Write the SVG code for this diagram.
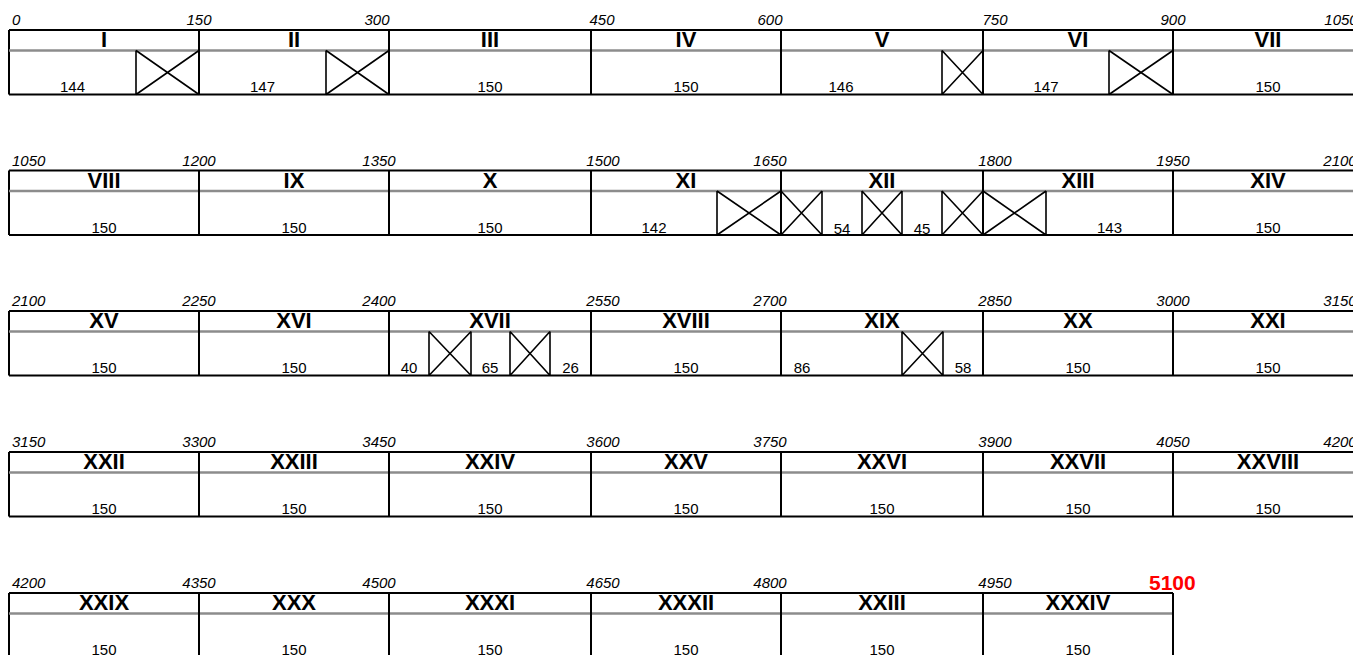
<svg xmlns="http://www.w3.org/2000/svg" width="1353" height="655" viewBox="0 0 1353 655">
<style>
.b{stroke:#000;stroke-width:2;fill:none}
.g{stroke:#8c8c8c;stroke-width:2.5;fill:none}
.x{stroke:#000;stroke-width:1.6;fill:none}
.t{font-family:"Liberation Sans",Arial,sans-serif;font-style:italic;font-size:15px;fill:#000;text-anchor:middle}
.ts{text-anchor:start}
.r{font-family:"Liberation Sans",Arial,sans-serif;font-weight:bold;font-size:22px;text-anchor:middle;fill:#000}
.n{font-family:"Liberation Sans",Arial,sans-serif;font-size:15px;text-anchor:middle;fill:#000}
.red{font-family:"Liberation Sans",Arial,sans-serif;font-weight:bold;font-size:21px;fill:#ff0000}
</style>
<rect width="1353" height="655" fill="#fff"/>

<!-- Row 1 -->
<g id="row1">
  <g id="row1-frame">
    <path class="b" d="M9,30H1363M9,94.5H1363M9,30V94.5"/>
    <path class="g" d="M9,50.5H1363"/>
    <text class="t ts" x="12" y="25">0</text>
    <text class="t" x="199" y="25">150</text>
    <text class="t" x="377" y="25">300</text>
    <text class="t" x="602" y="25">450</text>
    <text class="t" x="770" y="25">600</text>
    <text class="t" x="995" y="25">750</text>
    <text class="t" x="1173" y="25">900</text>
    <text class="t" x="1341" y="25">1050</text>
  </g>
  <g id="seg-I"><path class="b" d="M199,30V94.5"/><text class="r" x="104" y="47">I</text><text class="n" x="72.5" y="92">144</text><path class="x" d="M136,50.5V94.5M136,50.5L199,94.5M136,94.5L199,50.5"/></g>
  <g id="seg-II"><path class="b" d="M389,30V94.5"/><text class="r" x="294" y="47">II</text><text class="n" x="262.5" y="92">147</text><path class="x" d="M326,50.5V94.5M326,50.5L389,94.5M326,94.5L389,50.5"/></g>
  <g id="seg-III"><path class="b" d="M591,30V94.5"/><text class="r" x="490" y="47">III</text><text class="n" x="490" y="92">150</text></g>
  <g id="seg-IV"><path class="b" d="M781,30V94.5"/><text class="r" x="686" y="47">IV</text><text class="n" x="686" y="92">150</text></g>
  <g id="seg-V"><path class="b" d="M983,30V94.5"/><text class="r" x="882" y="47">V</text><text class="n" x="841" y="92">146</text><path class="x" d="M942,50.5V94.5M942,50.5L983,94.5M942,94.5L983,50.5"/></g>
  <g id="seg-VI"><path class="b" d="M1173,30V94.5"/><text class="r" x="1078" y="47">VI</text><text class="n" x="1046" y="92">147</text><path class="x" d="M1109,50.5V94.5M1109,50.5L1173,94.5M1109,94.5L1173,50.5"/></g>
  <g id="seg-VII"><text class="r" x="1268" y="47">VII</text><text class="n" x="1268" y="92">150</text></g>
</g>

<!-- Row 2 -->
<g id="row2" transform="translate(0,140.5)">
  <g id="row2-frame">
    <path class="b" d="M9,30H1363M9,94.5H1363M9,30V94.5"/>
    <path class="g" d="M9,50.5H1363"/>
    <text class="t ts" x="12" y="25">1050</text>
    <text class="t" x="199" y="25">1200</text>
    <text class="t" x="379" y="25">1350</text>
    <text class="t" x="603" y="25">1500</text>
    <text class="t" x="770" y="25">1650</text>
    <text class="t" x="995" y="25">1800</text>
    <text class="t" x="1173" y="25">1950</text>
    <text class="t" x="1340" y="25">2100</text>
  </g>
  <g id="seg-VIII"><path class="b" d="M199,30V94.5"/><text class="r" x="104" y="47">VIII</text><text class="n" x="104" y="92">150</text></g>
  <g id="seg-IX"><path class="b" d="M389,30V94.5"/><text class="r" x="294" y="47">IX</text><text class="n" x="294" y="92">150</text></g>
  <g id="seg-X"><path class="b" d="M591,30V94.5"/><text class="r" x="490" y="47">X</text><text class="n" x="490" y="92">150</text></g>
  <g id="seg-XI"><path class="b" d="M781,30V94.5"/><text class="r" x="686" y="47">XI</text><text class="n" x="654" y="92">142</text><path class="x" d="M717,50.5V94.5M717,50.5L781,94.5M717,94.5L781,50.5"/></g>
  <g id="seg-XII"><path class="b" d="M983,30V94.5"/><text class="r" x="882" y="47">XII</text><text class="n" x="842" y="93">54</text><text class="n" x="922" y="93">45</text><path class="x" d="M822,50.5V94.5M781,50.5L822,94.5M781,94.5L822,50.5M862,50.5V94.5M902,50.5V94.5M862,50.5L902,94.5M862,94.5L902,50.5M942,50.5V94.5M942,50.5L983,94.5M942,94.5L983,50.5"/></g>
  <g id="seg-XIII"><path class="b" d="M1173,30V94.5"/><text class="r" x="1078" y="47">XIII</text><text class="n" x="1109.5" y="92">143</text><path class="x" d="M1046,50.5V94.5M983,50.5L1046,94.5M983,94.5L1046,50.5"/></g>
  <g id="seg-XIV"><text class="r" x="1268" y="47">XIV</text><text class="n" x="1268" y="92">150</text></g>
</g>

<!-- Row 3 -->
<g id="row3" transform="translate(0,281)">
  <g id="row3-frame">
    <path class="b" d="M9,30H1363M9,94.5H1363M9,30V94.5"/>
    <path class="g" d="M9,50.5H1363"/>
    <text class="t ts" x="12" y="25">2100</text>
    <text class="t" x="199" y="25">2250</text>
    <text class="t" x="379" y="25">2400</text>
    <text class="t" x="603" y="25">2550</text>
    <text class="t" x="770" y="25">2700</text>
    <text class="t" x="995" y="25">2850</text>
    <text class="t" x="1173" y="25">3000</text>
    <text class="t" x="1340" y="25">3150</text>
  </g>
  <g id="seg-XV"><path class="b" d="M199,30V94.5"/><text class="r" x="104" y="47">XV</text><text class="n" x="104" y="92">150</text></g>
  <g id="seg-XVI"><path class="b" d="M389,30V94.5"/><text class="r" x="294" y="47">XVI</text><text class="n" x="294" y="92">150</text></g>
  <g id="seg-XVII"><path class="b" d="M591,30V94.5"/><text class="r" x="490" y="47">XVII</text><text class="n" x="409" y="92">40</text><text class="n" x="490" y="92">65</text><text class="n" x="570.5" y="92">26</text><path class="x" d="M429,50.5V94.5M471,50.5V94.5M429,50.5L471,94.5M429,94.5L471,50.5M510,50.5V94.5M550,50.5V94.5M510,50.5L550,94.5M510,94.5L550,50.5"/></g>
  <g id="seg-XVIII"><path class="b" d="M781,30V94.5"/><text class="r" x="686" y="47">XVIII</text><text class="n" x="686" y="92">150</text></g>
  <g id="seg-XIX"><path class="b" d="M983,30V94.5"/><text class="r" x="882" y="47">XIX</text><text class="n" x="802" y="92">86</text><text class="n" x="963" y="92">58</text><path class="x" d="M902,50.5V94.5M943,50.5V94.5M902,50.5L943,94.5M902,94.5L943,50.5"/></g>
  <g id="seg-XX"><path class="b" d="M1173,30V94.5"/><text class="r" x="1078" y="47">XX</text><text class="n" x="1078" y="92">150</text></g>
  <g id="seg-XXI"><text class="r" x="1268" y="47">XXI</text><text class="n" x="1268" y="92">150</text></g>
</g>

<!-- Row 4 -->
<g id="row4" transform="translate(0,422)">
  <g id="row4-frame">
    <path class="b" d="M9,30H1363M9,94.5H1363M9,30V94.5"/>
    <path class="g" d="M9,50.5H1363"/>
    <text class="t ts" x="12" y="25">3150</text>
    <text class="t" x="199" y="25">3300</text>
    <text class="t" x="379" y="25">3450</text>
    <text class="t" x="603" y="25">3600</text>
    <text class="t" x="770" y="25">3750</text>
    <text class="t" x="995" y="25">3900</text>
    <text class="t" x="1173" y="25">4050</text>
    <text class="t" x="1340" y="25">4200</text>
  </g>
  <g id="seg-XXII"><path class="b" d="M199,30V94.5"/><text class="r" x="104" y="47">XXII</text><text class="n" x="104" y="92">150</text></g>
  <g id="seg-XXIII"><path class="b" d="M389,30V94.5"/><text class="r" x="294" y="47">XXIII</text><text class="n" x="294" y="92">150</text></g>
  <g id="seg-XXIV"><path class="b" d="M591,30V94.5"/><text class="r" x="490" y="47">XXIV</text><text class="n" x="490" y="92">150</text></g>
  <g id="seg-XXV"><path class="b" d="M781,30V94.5"/><text class="r" x="686" y="47">XXV</text><text class="n" x="686" y="92">150</text></g>
  <g id="seg-XXVI"><path class="b" d="M983,30V94.5"/><text class="r" x="882" y="47">XXVI</text><text class="n" x="882" y="92">150</text></g>
  <g id="seg-XXVII"><path class="b" d="M1173,30V94.5"/><text class="r" x="1078" y="47">XXVII</text><text class="n" x="1078" y="92">150</text></g>
  <g id="seg-XXVIII"><text class="r" x="1268" y="47">XXVIII</text><text class="n" x="1268" y="92">150</text></g>
</g>

<!-- Row 5 -->
<g id="row5" transform="translate(0,563)">
  <g id="row5-frame">
    <path class="b" d="M9,30H1173M9,94.5H1173M9,30V94.5"/>
    <path class="g" d="M9,50.5H1173"/>
    <text class="t ts" x="12" y="25">4200</text>
    <text class="t" x="199" y="25">4350</text>
    <text class="t" x="379" y="25">4500</text>
    <text class="t" x="603" y="25">4650</text>
    <text class="t" x="770" y="25">4800</text>
    <text class="t" x="995" y="25">4950</text>
    <text class="red" x="1149" y="27">5100</text>
  </g>
  <g id="seg-XXIX"><path class="b" d="M199,30V94.5"/><text class="r" x="104" y="47">XXIX</text><text class="n" x="104" y="92">150</text></g>
  <g id="seg-XXX"><path class="b" d="M389,30V94.5"/><text class="r" x="294" y="47">XXX</text><text class="n" x="294" y="92">150</text></g>
  <g id="seg-XXXI"><path class="b" d="M591,30V94.5"/><text class="r" x="490" y="47">XXXI</text><text class="n" x="490" y="92">150</text></g>
  <g id="seg-XXXII"><path class="b" d="M781,30V94.5"/><text class="r" x="686" y="47">XXXII</text><text class="n" x="686" y="92">150</text></g>
  <g id="seg-XXXIII"><path class="b" d="M983,30V94.5"/><text class="r" x="882" y="47">XXIII</text><text class="n" x="882" y="92">150</text></g>
  <g id="seg-XXXIV"><path class="b" d="M1173,30V94.5"/><text class="r" x="1078" y="47">XXXIV</text><text class="n" x="1078" y="92">150</text></g>
</g>
</svg>
